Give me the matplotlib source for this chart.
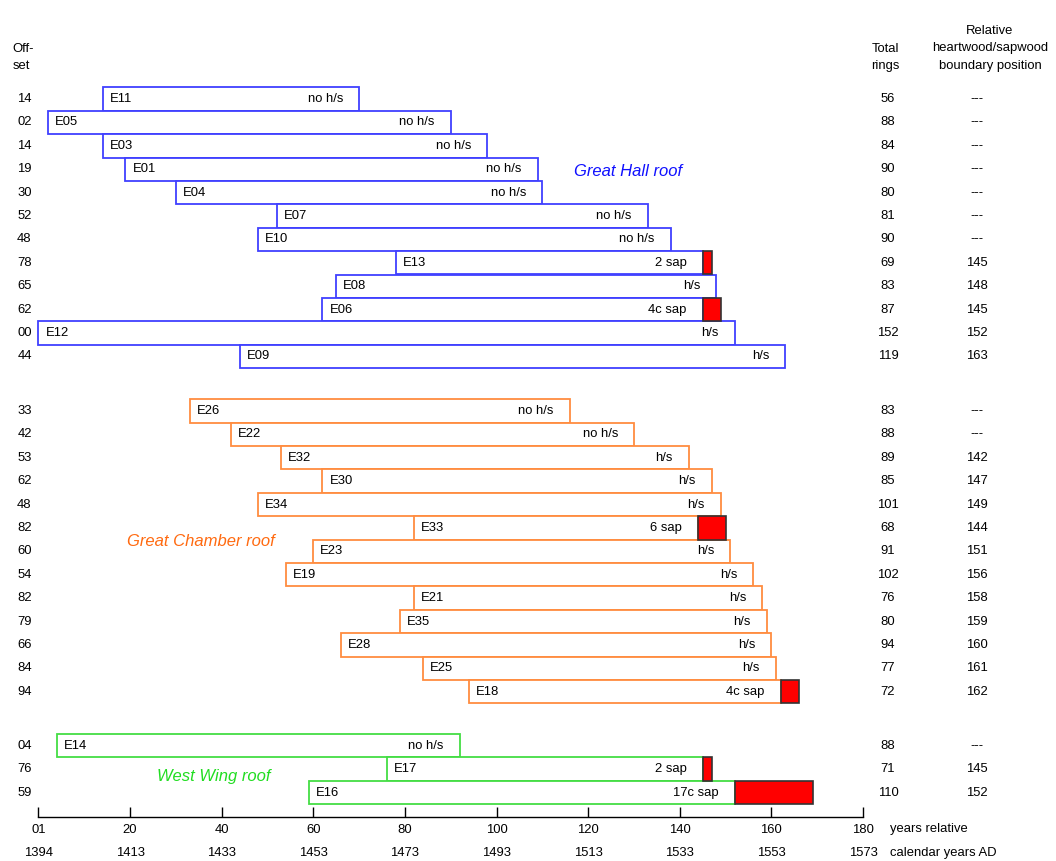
import matplotlib
matplotlib.use('Agg')
import matplotlib.pyplot as plt

# ---- data ----
hall_names = ['E11', 'E05', 'E03', 'E01', 'E04', 'E07', 'E10', 'E13', 'E08', 'E06', 'E12', 'E09']
hall_offsets = [14, 2, 14, 19, 30, 52, 48, 78, 65, 62, 0, 44]
hall_totals = [56, 88, 84, 90, 80, 81, 90, 69, 83, 87, 152, 119]
hall_hs = [None, None, None, None, None, None, None, 145, 148, 145, 152, 163]
hall_notes = ['no h/s'] * 7 + ['2 sap', 'h/s', '4c sap', 'h/s', 'h/s']

chamber_names = ['E26', 'E22', 'E32', 'E30', 'E34', 'E33', 'E23', 'E19', 'E21', 'E35', 'E28', 'E25', 'E18']
chamber_offsets = [33, 42, 53, 62, 48, 82, 60, 54, 82, 79, 66, 84, 94]
chamber_totals = [83, 88, 89, 85, 101, 68, 91, 102, 76, 80, 94, 77, 72]
chamber_hs = [None, None, 142, 147, 149, 144, 151, 156, 158, 159, 160, 161, 162]
chamber_notes = ['no h/s', 'no h/s', 'h/s', 'h/s', 'h/s', '6 sap', 'h/s', 'h/s', 'h/s', 'h/s', 'h/s', 'h/s', '4c sap']

west_names = ['E14', 'E17', 'E16']
west_offsets = [4, 76, 59]
west_totals = [88, 71, 110]
west_hs = [None, 145, 152]
west_notes = ['no h/s', '2 sap', '17c sap']

rel_ticks = [0, 20, 40, 60, 80, 100, 120, 140, 160, 180]
rel_labels = ['01', '20', '40', '60', '80', '100', '120', '140', '160', '180']
cal_labels = ['1394', '1413', '1433', '1453', '1473', '1493', '1513', '1533', '1553', '1573']

# ---- layout (pixels of a 1056x861 figure) ----
W, H = 1056, 861
X0, PXY = 38.4, 4.581        # pixel of year 0, pixels per year
Y0, ROW = 99.0, 23.4         # pixel of first row centre, row height

plt.rcParams['font.family'] = ['Liberation Sans', 'DejaVu Sans']
fig = plt.figure(figsize=(W / 100, H / 100), dpi=100)
ax = fig.add_axes([0, 0, 1, 1])
ax.set_xlim(-X0 / PXY, (W - X0) / PXY)
ax.set_ylim((H - Y0) / ROW, -Y0 / ROW)
ax.axis('off')

col_off = (24.5 - X0) / PXY
col_tot = (888 - X0) / PXY
col_rel = (977 - X0) / PXY
fs = 9.4

groups = [
    (hall_names, hall_offsets, hall_totals, hall_hs, hall_notes, 0.0, '#4040ff'),
    (chamber_names, chamber_offsets, chamber_totals, chamber_hs, chamber_notes, 13.33, '#ff8c40'),
    (west_names, west_offsets, west_totals, west_hs, west_notes, 27.64, '#44dd44'),
]

for names, offs, tots, hss, notes, start, col in groups:
    for i in range(len(names)):
        y = start + i
        end = offs[i] + tots[i]
        hs_end = hss[i] if hss[i] is not None else end
        ax.barh(y, hs_end - offs[i], left=offs[i], height=1.0,
                color='white', edgecolor=col, linewidth=1.3, zorder=2)
        if end > hs_end:
            ax.barh(y, end - hs_end, left=hs_end, height=1.0,
                    color='#ff0000', edgecolor='#333333', linewidth=1.2, zorder=3)
        ax.annotate(names[i], (offs[i], y), xytext=(7, 0), textcoords='offset pixels',
                    ha='left', va='center', fontsize=fs, zorder=4)
        ax.annotate(notes[i], (hs_end, y), xytext=(-16, 0), textcoords='offset pixels',
                    ha='right', va='center', fontsize=fs, zorder=4)
        ax.text(col_off, y, '%02d' % offs[i], ha='center', va='center', fontsize=fs)
        ax.text(col_tot, y, str(tots[i]), ha='center', va='center', fontsize=fs)
        ax.text(col_rel, y, '---' if hss[i] is None else str(hss[i]),
                ha='center', va='center', fontsize=fs)

# group titles
tfs = 12
ax.text((574 - X0) / PXY, (171 - Y0) / ROW, 'Great Hall roof', color='#1010ff',
        style='italic', fontsize=tfs, ha='left', va='center')
ax.text((127 - X0) / PXY, (541 - Y0) / ROW, 'Great Chamber roof', color='#ff6a10',
        style='italic', fontsize=tfs, ha='left', va='center')
ax.text((157 - X0) / PXY, (777 - Y0) / ROW, 'West Wing roof', color='#22dd22',
        style='italic', fontsize=tfs, ha='left', va='center')

# column headers
ax.text((12.5 - X0) / PXY, (57.5 - Y0) / ROW, 'Off-\nset', ha='left', va='center',
        fontsize=fs, linespacing=1.6)
ax.text((885 - X0) / PXY, (57.5 - Y0) / ROW, 'Total\nrings', ha='center', va='center',
        fontsize=fs, linespacing=1.6)
ax.text((990 - X0) / PXY, (48.5 - Y0) / ROW, 'Relative\nheartwood/sapwood\nboundary position',
        ha='center', va='center', fontsize=fs, linespacing=1.6)

# bottom scale
axy = 817
sax = fig.add_axes([X0 / W, (H - axy) / H, 180 * PXY / W, 0.001])
sax.set_xlim(0, 180)
sax.set_ylim(0, 1)
sax.patch.set_visible(False)
for s in ['top', 'left', 'right']:
    sax.spines[s].set_visible(False)
sax.spines['bottom'].set_linewidth(1.0)
sax.set_yticks([])
sax.set_xticks(rel_ticks)
sax.set_xticklabels(rel_labels, fontsize=fs)
sax.tick_params(axis='x', direction='in', length=7, width=1, pad=5)
for t, lab in zip(rel_ticks, cal_labels):
    sax.annotate(lab, (t, 0), xytext=(0, -36), textcoords='offset pixels',
                 ha='center', va='center', fontsize=fs, annotation_clip=False)
sax.annotate('years relative', (180, 0), xytext=(27, -12), textcoords='offset pixels',
             ha='left', va='center', fontsize=fs, annotation_clip=False)
sax.annotate('calendar years AD', (180, 0), xytext=(27, -36), textcoords='offset pixels',
             ha='left', va='center', fontsize=fs, annotation_clip=False)

fig.savefig('out.png', dpi=100)
